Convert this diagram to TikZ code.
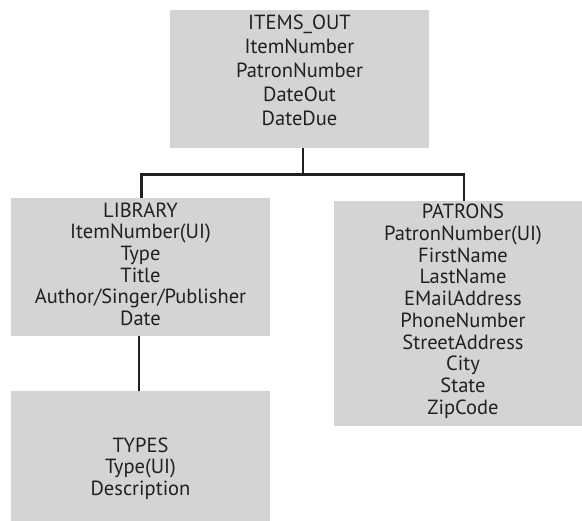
\documentclass[tikz,border=0pt]{standalone}
\usepackage{fontspec}
\setmainfont{PT Sans}
\definecolor{boxgray}{RGB}{211,212,214}
\definecolor{ink}{RGB}{35,31,32}
\tikzset{
  box/.style={fill=boxgray, draw=none, inner sep=0pt, rectangle},
  txt/.style={anchor=base, inner sep=0pt, text=ink, font=\fontsize{20.5}{22}\selectfont},
  conn/.style={draw=ink, line width=2.7pt}
}
\begin{document}
\begin{tikzpicture}[x=1pt,y=-1pt]
\useasboundingbox (0,0) rectangle (582,521);
\clip (0,0) rectangle (582,521);
% boxes
\node[box, minimum width=259pt, minimum height=138pt] (items) at (299.5,79) {};
\node[box, minimum width=259pt, minimum height=138pt] (lib) at (140.5,267) {};
\node[box, minimum width=259pt, minimum height=132pt] (types) at (140.5,457) {};
\node[box, minimum width=258pt, minimum height=225pt] (pat) at (463,313.5) {};
% connectors
\coordinate (busL) at (141.5,174.5);
\coordinate (busR) at (464,174.5);
\coordinate (itx) at (303,174.5);
\coordinate (tyx) at (139,0);
\draw[conn] (busL |- lib.north) -- (busL) -- (busR) -- (busR |- pat.north);
\draw[conn] (itx |- items.south) -- (itx);
\draw[conn] (tyx |- lib.south) -- (tyx |- types.north);
% texts
\foreach \t [count=\i from 0] in {ITEMS\_OUT, ItemNumber, PatronNumber, DateOut, DateDue}
  \node[txt] (it\i) at (299.5, 29.9+\i*23.8) {\t};
\foreach \t [count=\i from 0] in {LIBRARY, ItemNumber(UI), Type, Title, Author/Singer/Publisher, Date}
  \node[txt] (li\i) at (140.5, 217.2+\i*21.7) {\t};
\foreach \t [count=\i from 0] in {PATRONS, PatronNumber(UI), FirstName, LastName, EMailAddress, PhoneNumber, StreetAddress, City, State, ZipCode}
  \node[txt] (pa\i) at (463, 218.9+\i*21.7) {\t};
\foreach \t [count=\i from 0] in {TYPES, Type(UI), Description}
  \node[txt] (ty\i) at (140.5, 452.2+\i*21.7) {\t};
\end{tikzpicture}
\end{document}
